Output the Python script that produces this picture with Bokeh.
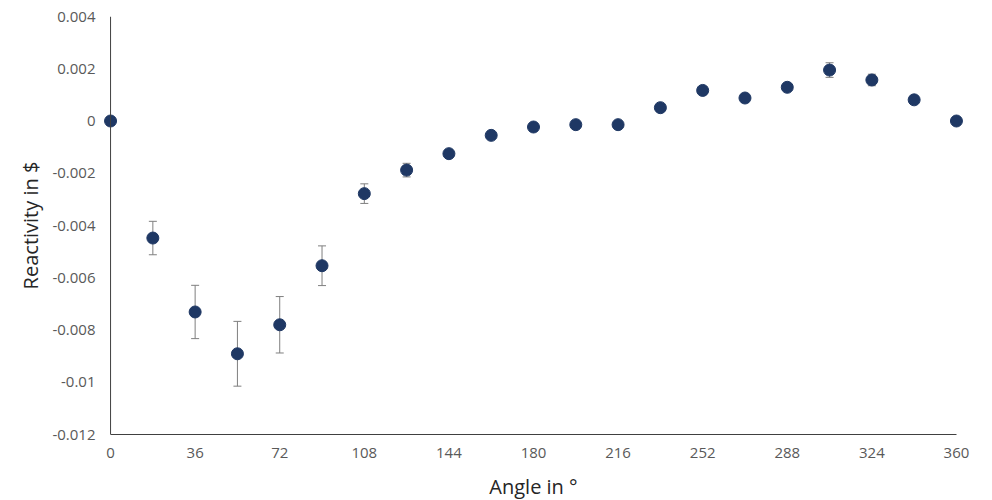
from bokeh.plotting import figure
from bokeh.models import ColumnDataSource, Whisker, TeeHead, Span, FixedTicker, Range1d
from bokeh.embed import file_html
from bokeh.resources import INLINE

# ---- data ----
angles = [0, 18, 36, 54, 72, 90, 108, 126, 144, 162, 180, 198, 216, 234, 252, 270, 288, 306, 324, 342, 360]
reactivity = [0.0, -0.00448, -0.00731, -0.00891, -0.0078, -0.00554, -0.00278, -0.00188, -0.00125,
              -0.00055, -0.00023, -0.00014, -0.00014, 0.00051, 0.00117, 0.00088, 0.00129,
              0.00195, 0.00157, 0.00081, 0.0]
errors = [0.0001, 0.00064, 0.00102, 0.00124, 0.00108, 0.00076, 0.000375, 0.00026, 0.00015,
          0.00012, 0.00012, 0.0001, 0.0001, 0.00012, 0.00012, 0.00012, 0.00012,
          0.00028, 0.00022, 0.00012, 0.0001]

x_ticks = [0, 36, 72, 108, 144, 180, 216, 252, 288, 324, 360]
x_tick_labels = ["0", "36", "72", "108", "144", "180", "216", "252", "288", "324", "360"]
y_ticks = [-0.012, -0.010, -0.008, -0.006, -0.004, -0.002, 0.0, 0.002, 0.004]
y_tick_labels = ["-0.012", "-0.01", "-0.008", "-0.006", "-0.004", "-0.002", "0", "0.002", "0.004"]

X_MIN, X_MAX = 0, 360
Y_MIN, Y_MAX = -0.012, 0.004
X_PAD = 3

FONT = "Open Sans"
MARK = "#1F3864"

src = ColumnDataSource(dict(
    x=angles,
    y=reactivity,
    lower=[v - e for v, e in zip(reactivity, errors)],
    upper=[v + e for v, e in zip(reactivity, errors)],
))

p = figure(
    frame_width=860, frame_height=418,
    x_range=Range1d(X_MIN - X_PAD, X_MAX + X_PAD),
    y_range=Range1d(Y_MIN, Y_MAX),
    output_backend="svg", toolbar_location=None,
    min_border_left=103, min_border_right=21, min_border_top=16, min_border_bottom=58,
)
p.outline_line_color = None
p.xgrid.visible = False
p.ygrid.visible = False
p.background_fill_color = "white"
p.border_fill_color = "white"

# axes
for ax in (p.xaxis[0], p.yaxis[0]):
    ax.major_tick_in = 0
    ax.major_tick_out = 0
    ax.minor_tick_in = 0
    ax.minor_tick_out = 0
    ax.major_label_text_font = FONT
    ax.major_label_text_font_size = "15px"
    ax.major_label_text_color = "#595959"
    ax.axis_label_text_font = FONT
    ax.axis_label_text_font_size = "20px"
    ax.axis_label_text_font_style = "normal"
    ax.axis_label_text_color = "#262626"

p.xaxis.ticker = FixedTicker(ticks=x_ticks)
p.xaxis.major_label_overrides = {t: l for t, l in zip(x_ticks, x_tick_labels)}
p.xaxis.bounds = (X_MIN, X_MAX)
p.xaxis.axis_line_color = "#404040"
p.xaxis.major_label_standoff = 13
p.xaxis.axis_label = "Angle in °"
p.xaxis.axis_label_standoff = 12

p.yaxis.ticker = FixedTicker(ticks=y_ticks)
p.yaxis.major_label_overrides = {t: l for t, l in zip(y_ticks, y_tick_labels)}
p.yaxis.axis_line_color = None
p.yaxis.major_label_standoff = 8
p.yaxis.axis_label = "Reactivity in $"
p.yaxis.axis_label_standoff = 5

p.add_layout(Span(location=X_MIN, dimension="height", line_color="#404040", line_width=1))

# error bars
w = Whisker(source=src, base="x", lower="lower", upper="upper",
            line_color="#7F7F7F", line_width=1,
            upper_head=TeeHead(size=8, line_color="#7F7F7F", line_width=1),
            lower_head=TeeHead(size=8, line_color="#7F7F7F", line_width=1))
p.add_layout(w)

p.scatter("x", "y", source=src, size=12, fill_color=MARK, line_color=MARK, line_width=1)

open("out.html", "w").write(file_html(p, INLINE))
